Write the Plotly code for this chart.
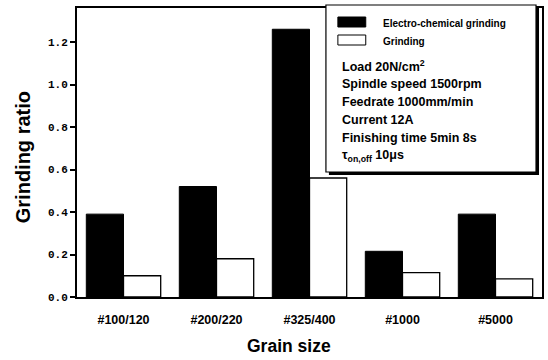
import plotly.graph_objects as go

categories = ["#100/120", "#200/220", "#325/400", "#1000", "#5000"]
ecg_values = [0.39, 0.52, 1.26, 0.215, 0.39]
grinding_values = [0.10, 0.18, 0.56, 0.115, 0.085]
series_names = ["Electro-chemical grinding", "Grinding"]
y_ticks = [0.0, 0.2, 0.4, 0.6, 0.8, 1.0, 1.2]
conditions = [
    "Load 20N/cm<sup>2</sup>",
    "Spindle speed 1500rpm",
    "Feedrate 1000mm/min",
    "Current 12A",
    "Finishing time 5min 8s",
    "τ<sub>on,off</sub> 10μs",
]

W, H = 548, 360
L, R, T, B = 77, 4, 8, 63
pw, ph = W - L - R, H - T - B

def px(x):
    return (x - L) / pw

def py(y):
    return (H - B - y) / ph

fig = go.Figure()
fig.add_trace(go.Bar(x=categories, y=ecg_values, name=series_names[0],
                     marker=dict(color="black", line=dict(color="black", width=1)),
                     showlegend=False))
fig.add_trace(go.Bar(x=categories, y=grinding_values, name=series_names[1],
                     marker=dict(color="white", line=dict(color="black", width=1.3)),
                     showlegend=False))

shapes = []
# legend box with shadow
bx0, bx1, by0, by1 = 327, 538, 5, 172
shapes.append(dict(type="rect", xref="paper", yref="paper",
                   x0=px(bx0 + 3), x1=px(bx1 + 3), y0=py(by1 + 3), y1=py(by0 + 3),
                   fillcolor="black", line=dict(width=0), layer="above"))
shapes.append(dict(type="rect", xref="paper", yref="paper",
                   x0=px(bx0), x1=px(bx1), y0=py(by1), y1=py(by0),
                   fillcolor="white", line=dict(color="black", width=1.2), layer="above"))
# legend swatches
shapes.append(dict(type="rect", xref="paper", yref="paper",
                   x0=px(339), x1=px(367), y0=py(27), y1=py(17),
                   fillcolor="black", line=dict(color="black", width=1), layer="above"))
shapes.append(dict(type="rect", xref="paper", yref="paper",
                   x0=px(339), x1=px(367), y0=py(45), y1=py(35),
                   fillcolor="white", line=dict(color="black", width=1), layer="above"))

annotations = []
for i, name in enumerate(series_names):
    annotations.append(dict(text="<b>" + name + "</b>", xref="paper", yref="paper",
                            x=px(382), y=py(23 + 18.5 * i), xanchor="left", yanchor="middle",
                            showarrow=False, font=dict(family="Liberation Sans", size=10, color="black")))
for i, line in enumerate(conditions):
    annotations.append(dict(text="<b>" + line + "</b>", xref="paper", yref="paper",
                            x=px(341), y=py(66 + 18 * i), xanchor="left", yanchor="middle",
                            showarrow=False, font=dict(family="Liberation Sans", size=12.5, color="black")))
# axis titles
annotations.append(dict(text="<b>Grinding ratio</b>", xref="paper", yref="paper",
                        x=px(23), y=py(157), xanchor="center", yanchor="middle",
                        textangle=-90, showarrow=False,
                        font=dict(family="Liberation Sans", size=20, color="black")))
annotations.append(dict(text="<b>Grain size</b>", xref="paper", yref="paper",
                        x=px(290), y=py(346), xanchor="center", yanchor="middle",
                        showarrow=False,
                        font=dict(family="Liberation Sans", size=17.5, color="black")))

fig.update_layout(
    width=W, height=H,
    margin=dict(l=L, r=R, t=T, b=B),
    paper_bgcolor="white", plot_bgcolor="white",
    barmode="group", bargap=0.2, bargroupgap=0,
    shapes=shapes, annotations=annotations,
    xaxis=dict(
        range=[-0.5, 4.5], showgrid=False, ticks="", showline=True, linecolor="black",
        linewidth=2, mirror=True, ticklabelstandoff=10,
        tickvals=categories, ticktext=["<b>" + c + "</b>" for c in categories],
        tickfont=dict(family="Liberation Sans", size=12.5, color="black"),
    ),
    yaxis=dict(
        range=[0, 1.36], tickvals=y_ticks, ticktext=[f"<b>{v:.1f}</b>" for v in y_ticks],
        showgrid=False, zeroline=False, ticks="outside", ticklen=5, tickwidth=2,
        tickcolor="black", showline=True, linecolor="black", linewidth=2, mirror=True,
        tickfont=dict(family="Liberation Mono", size=11, color="black"),
    ),
)

fig.write_html("out.html")
